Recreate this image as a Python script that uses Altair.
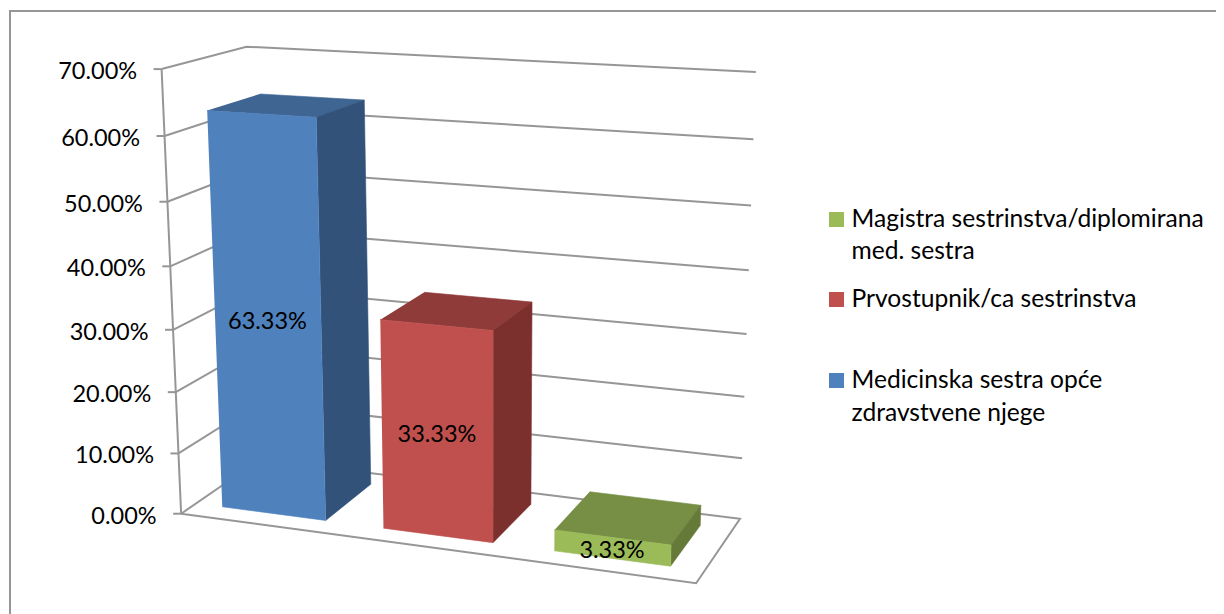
import numpy as np
import pandas as pd
import altair as alt

# ---- chart values ----
categories = ["Medicinska sestra opće zdravstvene njege", "Prvostupnik/ca sestrinstva",
              "Magistra sestrinstva/diplomirana med. sestra"]
values = [63.33, 33.33, 3.33]
value_labels = ["63.33%", "33.33%", "3.33%"]
ticks = [0, 10, 20, 30, 40, 50, 60, 70]
tick_labels = ["0.00%", "10.00%", "20.00%", "30.00%", "40.00%", "50.00%", "60.00%", "70.00%"]
front_colors = ["#4F81BD", "#C0504D", "#9BBB59"]
top_colors = ["#3F6592", "#8F3B39", "#778F44"]
side_colors = ["#32527A", "#7C302E", "#657A39"]
legend_rows = [
    ("Magistra sestrinstva/diplomirana", "#9BBB59", 219.5, 227),
    ("med. sestra", None, 0, 259),
    ("Prvostupnik/ca sestrinstva", "#C0504D", 299.5, 307),
    ("Medicinska sestra opće", "#4F81BD", 380.5, 388),
    ("zdravstvene njege", None, 0, 421),
]
GRID = "#969696"
FONT = "Lato"
RIGHT, BOTTOM = 1216, 614

# ---- perspective camera: floor is u,d in 0..1, height is the axis value ----
world = [(0, 0, 0), (1, 0, 0), (1, 1, 0), (0, 1, 0), (0, 0, 70), (0, 1, 70), (1, 1, 70)]
image = [(179, 513), (697, 583), (739, 519), (262, 460), (163, 70), (245, 46), (756, 72)]
rows = []
for (a, b, c), (px, py) in zip(world, image):
    c = c / 70
    rows.append([a, b, c, 1, 0, 0, 0, 0, -px * a, -px * b, -px * c, -px])
    rows.append([0, 0, 0, 0, a, b, c, 1, -py * a, -py * b, -py * c, -py])
CAM = np.linalg.svd(np.array(rows, float))[2][-1].reshape(3, 4)


def project(u, d, v):
    p = CAM @ np.array([u, d, v / 70, 1.0])
    return float(p[0] / p[2]), float(p[1] / p[2])


X = alt.X("x:Q", scale=alt.Scale(domain=[8, RIGHT], range=[0, RIGHT - 8]), axis=None)
Y = alt.Y("y:Q", scale=alt.Scale(domain=[8, BOTTOM], range=[0, BOTTOM - 8]), axis=None)


def polyline(points, name):
    return [{"x": p[0], "y": p[1], "id": name, "i": k} for k, p in enumerate(points)]


# ---- frame, walls, floor, ticks ----
line_rows = polyline([(RIGHT, 11), (10, 11), (10, BOTTOM)], "frame")
for t in ticks[1:]:
    line_rows += polyline([project(0, 0, t), project(0, 1, t), project(1, 1, t)], f"grid{t}")
line_rows += polyline([project(0, 0, 0), project(1, 0, 0), project(1, 1, 0), project(0, 1, 0),
                       project(0, 0, 0)], "floor")
line_rows += polyline([project(0, 0, 0), project(0, 0, 70)], "axis")
for t in ticks:
    fx, fy = project(0, 0, t)
    line_rows += polyline([(fx - 8, fy), (fx, fy)], f"tick{t}")
lines = alt.Chart(pd.DataFrame(line_rows)).mark_line(color=GRID, strokeWidth=2).encode(
    x=X, y=Y, detail="id:N", order="i:Q")

layers = [lines]

# ---- bars ----
half_width = 0.108
d0, d1 = 0.18, 0.82
label_rows = []
for i, val in enumerate(values):
    centre = (i + 0.5) / 3 - 0.003
    u0, u1 = centre - half_width, centre + half_width
    faces = [
        ([(u0, d0, val), (u1, d0, val), (u1, d1, val), (u0, d1, val)], top_colors[i], "top"),
        ([(u1, d0, 0), (u1, d1, 0), (u1, d1, val), (u1, d0, val)], side_colors[i], "side"),
        ([(u0, d0, 0), (u1, d0, 0), (u1, d0, val), (u0, d0, val)], front_colors[i], "front"),
    ]
    for pts, colour, name in faces:
        df = pd.DataFrame(polyline([project(*p) for p in pts], name))
        layers.append(alt.Chart(df).mark_line(fill=colour, stroke=colour, strokeWidth=0.6).encode(
            x=X, y=Y, order="i:Q"))
    lx, ly = project(centre, d0, val / 2)
    label_rows.append({"x": lx, "y": ly + 3, "t": value_labels[i]})

layers.append(alt.Chart(pd.DataFrame(label_rows)).mark_text(
    font=FONT, fontSize=23.5, color="#000000", align="center", baseline="middle"
).encode(x=X, y=Y, text="t:N"))

# ---- axis labels ----
tick_rows = []
for t, lab in zip(ticks, tick_labels):
    fx, fy = project(0, 0, t)
    tick_rows.append({"x": fx - 24.5, "y": fy + 3, "t": lab})
layers.append(alt.Chart(pd.DataFrame(tick_rows)).mark_text(
    font=FONT, fontSize=23.5, color="#000000", align="right", baseline="middle"
).encode(x=X, y=Y, text="t:N"))

# ---- legend ----
leg = pd.DataFrame(legend_rows, columns=["t", "c", "sy", "y"])
leg["x"] = 851.5
layers.append(alt.Chart(leg).mark_text(
    font=FONT, fontSize=24.6, color="#000000", align="left", baseline="alphabetic"
).encode(x=X, y=Y, text="t:N"))
sq = leg.dropna(subset=["c"]).copy()
sq["x"] = 836.5
sq["y"] = sq["sy"]
layers.append(alt.Chart(sq).mark_square(size=225, opacity=1, filled=True).encode(
    x=X, y=Y, fill=alt.Fill("c:N", scale=None)))

chart = alt.layer(*layers).properties(
    width=RIGHT - 8, height=BOTTOM - 8, padding=0,
    autosize=alt.AutoSizeParams(type="none"),
    background="#FFFFFF",
).configure_view(stroke=None)

chart.save("out.html", embed_options={"renderer": "svg", "actions": False})
